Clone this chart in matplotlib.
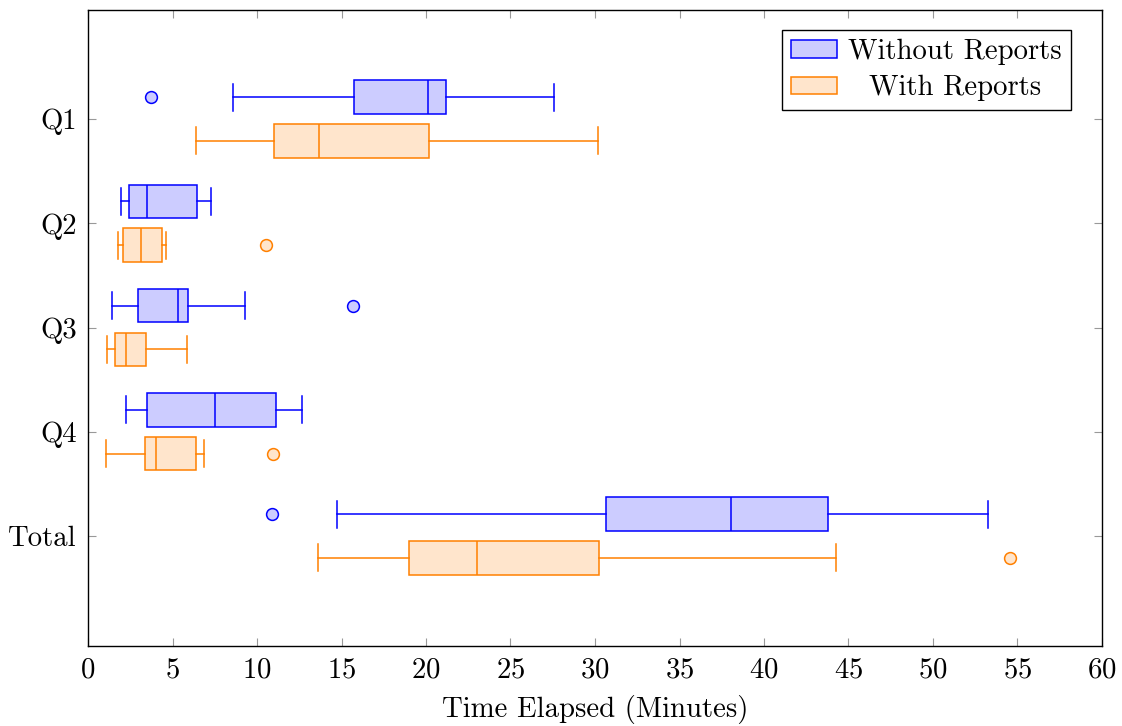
import matplotlib
matplotlib.use("Agg")
import matplotlib.pyplot as plt
from matplotlib.patches import Patch

plt.rcParams['font.family'] = 'serif'
plt.rcParams['font.serif'] = ['cmr10', 'DejaVu Serif']
plt.rcParams['axes.formatter.use_mathtext'] = True
plt.rcParams['mathtext.fontset'] = 'cm'

categories = ["Q1", "Q2", "Q3", "Q4", "Total"]
series = ["Without Reports", "With Reports"]

# (whisker low, Q1, median, Q3, whisker high)
without_stats = [
    [8.60, 15.72, 20.09, 21.21, 27.57],
    [1.94, 2.43, 3.47, 6.45, 7.28],
    [1.42, 2.94, 5.35, 5.94, 9.27],
    [2.23, 3.51, 7.54, 11.13, 12.69],
    [14.74, 30.68, 38.05, 43.81, 53.27],
]
without_outliers = [[3.72], [], [15.69], [], [10.88]]

with_stats = [
    [6.42, 10.98, 13.65, 20.15, 30.19],
    [1.78, 2.05, 3.12, 4.38, 4.62],
    [1.11, 1.60, 2.25, 3.42, 5.84],
    [1.09, 3.40, 4.03, 6.37, 6.85],
    [13.63, 19.00, 23.04, 30.23, 44.27],
]
with_outliers = [[], [10.56], [], [10.97], [54.56]]

x_ticks = list(range(0, 61, 5))
x_label = "Time Elapsed (Minutes)"

blue_edge = "#0000FF"
blue_fill = "#CCCCFF"
orange_edge = "#FF8000"
orange_fill = "#FFE5CC"

FS = 20.7

fig = plt.figure(figsize=(11.22, 7.26), dpi=100)
ax = fig.add_axes([88/1122, 1-646/726, (1102-88)/1122, (646-10)/726])

n = len(categories)
base = [n - 1 - i for i in range(n)]
offset = 0.21


def make_stats(stats, outliers):
    out = []
    for s, o in zip(stats, outliers):
        out.append(dict(whislo=s[0], q1=s[1], med=s[2], q3=s[3], whishi=s[4], fliers=o))
    return out


for stats, outl, sgn, ec, fc in [
    (without_stats, without_outliers, 1, blue_edge, blue_fill),
    (with_stats, with_outliers, -1, orange_edge, orange_fill),
]:
    pos = [b + sgn * offset for b in base]
    ax.bxp(make_stats(stats, outl), positions=pos, widths=0.32, capwidths=0.26,
           orientation='horizontal', patch_artist=True, manage_ticks=False,
           boxprops=dict(facecolor=fc, edgecolor=ec, linewidth=1.1),
           medianprops=dict(color=ec, linewidth=1.1),
           whiskerprops=dict(color=ec, linewidth=1.1),
           capprops=dict(color=ec, linewidth=1.1),
           flierprops=dict(marker='o', markerfacecolor=fc, markeredgecolor=ec,
                           markersize=8.5, markeredgewidth=1.1, linestyle='none'))

ax.set_xlim(0, 60)
ax.set_ylim(-1.055, 5.046)
ax.set_xticks(x_ticks)
ax.set_yticks(base)
ax.set_yticklabels(categories)
ax.set_xlabel(x_label, fontsize=FS, labelpad=8)

ax.tick_params(axis='both', which='both', direction='in', length=6, width=0.8,
               color='#999999', labelcolor='black', labelsize=FS,
               top=True, right=True, pad=8)
for sp in ax.spines.values():
    sp.set_linewidth(1.0)
    sp.set_color('black')

handles = [Patch(facecolor=blue_fill, edgecolor=blue_edge, linewidth=1.1),
           Patch(facecolor=orange_fill, edgecolor=orange_edge, linewidth=1.1)]
leg = ax.legend(handles, series, loc='upper right', bbox_to_anchor=(1071/1122, 1-30/726),
                bbox_transform=fig.transFigure, fontsize=FS, frameon=True, fancybox=False,
                edgecolor='black', framealpha=1, handlelength=1.6, handleheight=0.55,
                handletextpad=0.4, borderpad=0.31, labelspacing=0.34, borderaxespad=0)
leg.get_frame().set_linewidth(1.0)

# center the shorter legend label within the text column, as in the reference
fig.canvas.draw()
texts = leg.get_texts()
widths = [t.get_window_extent().width for t in texts]
wmax = max(widths)
for t, w in zip(texts, widths):
    t.set_position(((wmax - w) / 2, 0))

fig.savefig("out.png", dpi=100)
